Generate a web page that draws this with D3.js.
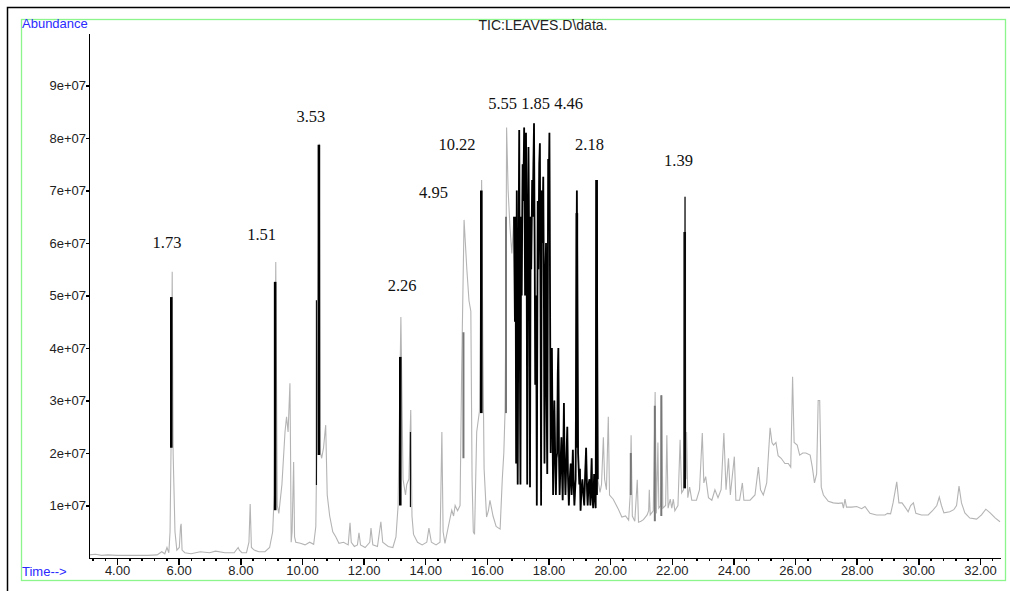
<!DOCTYPE html>
<meta charset="utf-8">
<title>TIC:LEAVES.D\data.</title>
<style type="text/css">
body { margin: 0; background: #fff; }
.ax text { font: 13px "Liberation Sans", Arial, sans-serif; fill: #222; }
.ax path, .ax line { stroke: #000; stroke-width: 1.4; shape-rendering: crispEdges; }
.lab { font: 16.5px "Liberation Serif", "Times New Roman", serif; fill: #111; }
</style>
<body>
<script src="https://cdn.jsdelivr.net/npm/d3@7/dist/d3.min.js"></script>
<script>
var width = 1010, height = 591;

// TIC trace: [retention time (min), abundance (x1e7)]
var ticTrace = [
 [3.09,0.06],[3.3,0.07],[3.5,0.05],[3.7,0.06],[4.0,0.05],[4.5,0.05],[5.0,0.05],[5.3,0.06],[5.45,0.12],[5.55,0.08],
 [5.62,0.2],[5.68,0.1],[5.72,0.5],[5.76,2.5],[5.79,5.45],[5.82,2.0],[5.88,0.5],[5.94,0.15],[6.02,0.2],[6.06,0.6],
 [6.08,0.65],[6.11,0.15],[6.2,0.1],[6.4,0.08],[6.7,0.12],[7.0,0.1],[7.2,0.13],[7.5,0.1],[7.8,0.1],[7.93,0.2],
 [7.97,0.15],[8.05,0.1],[8.2,0.1],[8.28,0.3],[8.32,1.03],[8.36,0.2],[8.45,0.15],[8.6,0.12],[8.8,0.12],[8.95,0.2],
 [9.05,0.5],[9.1,1.2],[9.15,5.64],[9.2,1.0],[9.25,0.85],[9.35,1.4],[9.45,2.4],[9.5,2.69],[9.55,2.4],[9.61,3.33],
 [9.63,2.0],[9.65,0.3],[9.68,0.5],[9.73,1.83],[9.76,0.4],[9.8,0.3],[9.95,0.28],[10.1,0.25],[10.25,0.3],[10.38,0.26],
 [10.45,0.6],[10.5,3.0],[10.56,7.89],[10.6,2.0],[10.64,1.9],[10.7,2.1],[10.77,2.53],[10.82,1.2],[10.9,0.8],[11.0,0.5],
 [11.1,0.4],[11.2,0.28],[11.35,0.3],[11.5,0.25],[11.56,0.67],[11.6,0.3],[11.7,0.22],[11.8,0.25],[11.85,0.48],[11.9,0.25],
 [12.05,0.2],[12.2,0.3],[12.24,0.57],[12.3,0.25],[12.45,0.22],[12.56,0.69],[12.62,0.3],[12.8,0.22],[12.95,0.2],[13.05,0.4],
 [13.12,1.0],[13.21,4.59],[13.28,1.5],[13.36,1.2],[13.4,1.4],[13.47,1.5],[13.53,2.82],[13.57,0.8],[13.62,0.45],[13.75,0.3],
 [13.9,0.25],[14.05,0.3],[14.12,0.57],[14.2,0.3],[14.35,0.25],[14.48,0.3],[14.54,2.4],[14.58,0.5],[14.64,0.28],[14.75,0.6],
 [14.86,0.91],[14.92,0.8],[14.97,1.0],[15.05,0.9],[15.13,1.0],[15.18,3.5],[15.26,6.44],[15.35,5.5],[15.42,4.9],[15.48,4.7],
 [15.52,1.5],[15.56,0.5],[15.6,0.45],[15.67,2.4],[15.76,2.8],[15.83,7.2],[15.87,4.0],[15.91,1.7],[15.99,0.78],[16.05,0.9],
 [16.1,1.1],[16.2,0.8],[16.3,0.6],[16.43,0.55],[16.5,1.5],[16.55,2.0],[16.59,2.8],[16.62,5.0],[16.64,8.2],[16.69,7.0],
 [16.75,6.3],[16.81,5.8],[16.88,6.5],[16.91,4.5],[16.93,6.5],[16.95,1.8],[16.97,7.0],[16.99,3.0],[17.0,1.4],[17.03,6.0],
 [17.05,8.15],[17.07,4.0],[17.09,1.4],[17.11,6.5],[17.13,5.0],[17.16,7.5],[17.18,6.8],[17.21,8.2],[17.24,5.0],[17.27,8.1],
 [17.29,6.0],[17.31,1.4],[17.33,6.0],[17.35,7.83],[17.38,5.0],[17.4,1.35],[17.42,6.5],[17.44,5.5],[17.47,7.2],[17.49,6.5],
 [17.51,7.5],[17.53,8.28],[17.55,6.0],[17.57,3.3],[17.6,5.0],[17.62,1.0],[17.65,6.8],[17.67,5.5],[17.7,7.5],[17.72,7.9],
 [17.74,5.0],[17.76,1.0],[17.78,7.0],[17.8,6.0],[17.83,7.26],[17.85,5.0],[17.87,1.8],[17.9,5.5],[17.92,6.0],[17.94,3.0],
 [17.96,1.6],[17.99,7.6],[18.01,7.0],[18.03,8.1],[18.05,5.0],[18.07,2.0],[18.09,3.2],[18.11,4.0],[18.13,2.5],[18.15,1.2],
 [18.17,2.2],[18.19,3.0],[18.22,1.8],[18.24,1.2],[18.26,1.9],[18.28,2.0],[18.3,3.5],[18.32,4.0],[18.34,2.0],[18.36,1.2],
 [18.39,1.8],[18.42,2.3],[18.44,1.6],[18.46,1.1],[18.48,2.0],[18.5,2.95],[18.52,1.9],[18.55,1.2],[18.58,1.9],[18.61,2.5],
 [18.63,1.6],[18.66,1.0],[18.69,1.5],[18.72,1.8],[18.75,1.2],[18.79,2.06],[18.81,1.5],[18.84,1.0],[18.88,1.5],[18.92,7.0],
 [18.96,2.0],[19.0,1.4],[19.02,1.7],[19.04,0.9],[19.07,1.3],[19.1,1.5],[19.13,1.2],[19.16,1.0],[19.19,1.6],[19.22,2.1],
 [19.25,1.3],[19.27,1.0],[19.3,1.4],[19.33,1.5],[19.36,1.0],[19.4,1.9],[19.42,1.2],[19.45,0.95],[19.48,1.6],[19.5,1.2],
 [19.53,0.95],[19.56,7.2],[19.6,1.5],[19.67,1.25],[19.72,1.4],[19.78,2.3],[19.82,1.5],[19.88,1.3],[19.94,2.69],[19.98,1.2],
 [20.1,1.12],[20.25,0.95],[20.38,0.78],[20.5,0.8],[20.6,0.72],[20.65,1.2],[20.68,2.34],[20.72,0.8],[20.8,0.7],[20.88,1.49],
 [20.92,0.68],[21.0,0.7],[21.08,0.73],[21.2,0.82],[21.25,0.9],[21.27,1.3],[21.3,0.82],[21.4,0.9],[21.46,3.16],[21.5,0.85],
 [21.55,2.2],[21.58,0.95],[21.64,1.0],[21.67,3.1],[21.71,0.95],[21.8,1.0],[21.84,2.34],[21.88,0.95],[21.95,1.12],[22.0,0.95],
 [22.05,1.12],[22.1,0.9],[22.2,1.0],[22.27,2.25],[22.32,1.24],[22.38,1.3],[22.43,6.88],[22.46,1.5],[22.48,2.4],[22.52,1.15],
 [22.58,1.35],[22.65,1.1],[22.8,1.1],[22.9,1.3],[22.99,2.38],[23.04,1.43],[23.1,1.55],[23.19,1.15],[23.3,1.1],[23.4,1.3],
 [23.5,1.15],[23.6,1.3],[23.69,2.38],[23.76,1.3],[23.84,1.9],[23.9,1.2],[24.03,1.93],[24.08,1.1],[24.2,1.1],[24.29,1.43],
 [24.34,1.1],[24.54,1.1],[24.7,1.2],[24.81,1.73],[24.88,1.3],[24.97,1.2],[25.08,1.43],[25.19,2.48],[25.25,2.2],[25.3,2.15],
 [25.38,2.2],[25.45,1.95],[25.55,1.9],[25.67,1.8],[25.78,1.8],[25.86,1.73],[25.92,3.45],[25.97,2.2],[26.07,2.15],[26.15,1.96],
 [26.25,2.0],[26.35,2.0],[26.49,1.96],[26.56,1.73],[26.63,1.43],[26.7,1.6],[26.75,3.0],[26.8,3.0],[26.85,1.35],[26.92,1.2],
 [27.08,1.08],[27.24,1.05],[27.4,1.04],[27.53,1.05],[27.57,0.95],[27.62,1.12],[27.67,0.97],[27.84,0.97],[28.0,0.98],[28.16,0.94],
 [28.27,0.98],[28.43,0.85],[28.64,0.82],[28.92,0.82],[29.0,0.85],[29.1,0.84],[29.18,1.05],[29.3,1.45],[29.37,1.05],[29.47,1.05],
 [29.57,0.97],[29.67,0.88],[29.75,1.0],[29.84,1.05],[29.92,0.85],[30.1,0.82],[30.32,0.82],[30.46,0.9],[30.6,1.0],[30.68,1.16],
 [30.75,1.0],[30.83,0.86],[31.02,0.88],[31.15,0.92],[31.24,1.0],[31.32,1.37],[31.4,1.05],[31.51,0.86],[31.67,0.76],[31.89,0.74],
 [32.05,0.82],[32.19,0.93],[32.33,0.86],[32.5,0.76],[32.65,0.69]
];

// time window of the crowded integrated region (drawn black)
var denseWindow = [16.88, 19.62];

// integrated peaks: [time, low, high] (x1e7)
var thickBars = [[5.76,2.10,4.97],[9.13,0.91,5.26],[10.55,1.96,7.87],[13.19,1.0,3.83],[15.82,2.76,7.0],[18.92,2.1,6.57],[19.56,1.2,7.2],[22.42,1.33,6.21]];
var thinBars = [[10.47,1.39,4.91],[13.52,0.97,2.4],[22.43,1.33,6.88]];
var shadeBars = [[15.24,1.9,4.3],[16.62,2.76,6.5],[20.67,1.2,2.0],[21.45,0.7,2.9],[21.66,0.8,3.1]];

// peak annotations: [text, time, abundance (x1e7)]
var peakLabels = [["1.73",5.62,5.90],["1.51",8.69,6.06],["3.53",10.29,8.30],["2.26",13.25,5.09],["4.95",14.27,6.85],
 ["10.22",15.03,7.77],["5.55 1.85 4.46",17.58,8.55],["2.18",19.33,7.77],["1.39",22.22,7.47]];

var majorTicks = [4,6,8,10,12,14,16,18,20,22,24,26,28,30,32];
var yTicks = [1e7,2e7,3e7,4e7,5e7,6e7,7e7,8e7,9e7];

var svg = d3.select('body').append('svg').attr('width', width).attr('height', height);

svg.append('rect').attr('x', 7.5).attr('y', 7.5).attr('width', 1010).attr('height', 600)
   .attr('fill', 'none').attr('stroke', '#000').attr('stroke-width', 1.5);
svg.append('rect').attr('x', 21.5).attr('y', 19.5).attr('width', 984).attr('height', 561)
   .attr('fill', 'none').attr('stroke', '#8cf58c').attr('stroke-width', 1.3);

var x = d3.scaleLinear().domain([3.09, 32.65]).range([89, 1000]);
var y = d3.scaleLinear().domain([0, 1e8]).range([558, 33]);

var line = d3.line().x(d => x(d[0])).y(d => y(d[1] * 1e7));

svg.append('path').datum(ticTrace).attr('d', line)
   .attr('fill', 'none').attr('stroke', '#b4b4b4').attr('stroke-width', 1.1);

function bars(data, color, w) {
  svg.append('g').selectAll('line').data(data).enter().append('line')
     .attr('x1', d => x(d[0])).attr('x2', d => x(d[0]))
     .attr('y1', d => y(d[1] * 1e7)).attr('y2', d => y(d[2] * 1e7))
     .attr('stroke', color).attr('stroke-width', w);
}
bars(shadeBars, '#777', 2);

svg.append('path').datum(ticTrace.filter(d => d[0] >= denseWindow[0] && d[0] <= denseWindow[1])).attr('d', line)
   .attr('fill', 'none').attr('stroke', '#000').attr('stroke-width', 1.8);

bars(thickBars, '#000', 2.6);
bars(thinBars, '#111', 1.2);

// axes
var yAxis = svg.append('g').attr('class', 'ax').attr('transform', 'translate(89,0)')
   .call(d3.axisLeft(y).tickValues(yTicks).tickSize(3).tickSizeOuter(0).tickPadding(0)
   .tickFormat(d => (d / 1e7) + 'e+07'));

svg.append('g').attr('class', 'ax').attr('transform', 'translate(0,558)')
   .call(d3.axisBottom(x).tickValues(d3.range(3.2, 32.65, 0.4)).tickSize(3).tickSizeOuter(0).tickFormat(''));
svg.append('g').attr('class', 'ax').attr('transform', 'translate(0,558)')
   .call(d3.axisBottom(x).tickValues(majorTicks).tickSize(7).tickSizeOuter(0).tickPadding(1)
   .tickFormat(d3.format('.2f')));

svg.append('text').attr('x', 22).attr('y', 28)
   .style('font', '13px "Liberation Sans", Arial, sans-serif').attr('fill', '#2a2aff').text('Abundance');
svg.append('text').attr('x', 22).attr('y', 576)
   .style('font', '13px "Liberation Sans", Arial, sans-serif').attr('fill', '#2a2aff').text('Time-->');
svg.append('text').attr('x', 543).attr('y', 30).attr('text-anchor', 'middle')
   .style('font', '14px "Liberation Sans", Arial, sans-serif').attr('fill', '#222').text('TIC:LEAVES.D\\data.');

svg.selectAll('.lab').data(peakLabels).enter().append('text').attr('class', 'lab')
   .attr('x', d => x(d[1])).attr('y', d => y(d[2] * 1e7)).attr('text-anchor', 'middle')
   .text(d => d[0]);
</script>
</body>
</html>
